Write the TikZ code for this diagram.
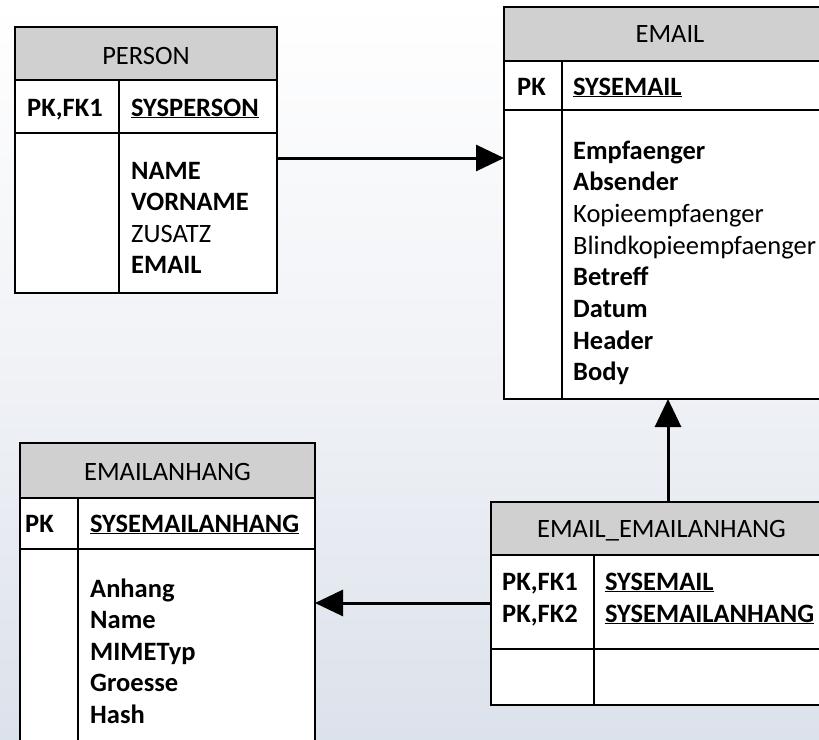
\documentclass[tikz,border=0pt]{standalone}
\usepackage{fontspec}
\setmainfont{Carlito}
\usetikzlibrary{arrows.meta}
\definecolor{hdr}{HTML}{D0D0D0}
\definecolor{bgtop}{HTML}{FFFFFF}
\definecolor{bgbot}{HTML}{DCE2EB}
\tikzset{
  tbl/.style={draw=black, line width=1.8pt, fill=white},
  hdrbox/.style={draw=black, line width=1.8pt, fill=hdr},
  sep/.style={draw=black, line width=1.8pt},
  txt/.style={anchor=base west, inner sep=0pt, font=\fontsize{26.5}{31.5}\selectfont},
  htxt/.style={anchor=base, inner sep=0pt, font=\fontsize{26.5}{31.5}\selectfont},
  conn/.style={draw=black, line width=3pt, -{Triangle[length=28pt,width=26pt]}},
}
\begin{document}
\begin{tikzpicture}[x=1pt,y=-1pt]
\useasboundingbox (0,0) rectangle (819,739);
\clip (0,0) rectangle (819,739);
\shade[top color=bgtop, bottom color=bgbot, middle color={rgb,255:red,240;green,242;blue,246}] (0,0) rectangle (819,739);

% PERSON
\draw[tbl] (15,80) rectangle (277,293);
\draw[hdrbox] (15,27) rectangle (277,80);
\draw[sep] (15,133) -- (277,133);
\draw[sep] (119,80) -- (119,293);
\node[htxt] (pT) at (146,64) {PERSON};
\node[txt] (pK) at (27,116) {\bfseries PK,FK1};
\node[txt] (pS) at (131,116) {\bfseries\underline{SYSPERSON}};
\node[txt] (pA1) at (131,179) {\bfseries NAME};
\node[txt] (pA2) at (131,210.5) {\bfseries VORNAME};
\node[txt] (pA3) at (131,242) {ZUSATZ};
\node[txt] (pA4) at (131,273.5) {\bfseries EMAIL};
\coordinate (pR) at (277,158);

% EMAIL
\draw[tbl] (504,61) rectangle (836,399);
\draw[hdrbox] (504,7) rectangle (836,61);
\draw[sep] (504,110) -- (836,110);
\draw[sep] (562,61) -- (562,399);
\node[htxt] (eT) at (670,42) {EMAIL};
\node[txt] (eK) at (517,95) {\bfseries PK};
\node[txt] (eS) at (573,95) {\bfseries\underline{SYSEMAIL}};
\node[txt] (e1) at (573,159) {\bfseries Empfaenger};
\node[txt] (e2) at (573,190.7) {\bfseries Absender};
\node[txt] (e3) at (573,222.4) {Kopieempfaenger};
\node[txt] (e4) at (573,254.1) {Blindkopieempfaenger};
\node[txt] (e5) at (573,285.8) {\bfseries Betreff};
\node[txt] (e6) at (573,317.5) {\bfseries Datum};
\node[txt] (e7) at (573,349.2) {\bfseries Header};
\node[txt] (e8) at (573,380.9) {\bfseries Body};
\coordinate (eL) at (504,158);
\coordinate (eB) at (668,399);

% EMAILANHANG
\draw[tbl] (20,498) rectangle (315,760);
\draw[hdrbox] (20,443) rectangle (315,498);
\draw[sep] (20,549) -- (315,549);
\draw[sep] (78,498) -- (78,760);
\node[htxt] (aT) at (167.5,480) {EMAILANHANG};
\node[txt] (aK) at (25,532) {\bfseries PK};
\node[txt] (aS) at (90,532) {\bfseries\underline{SYSEMAILANHANG}};
\node[txt] (a1) at (90,597) {\bfseries Anhang};
\node[txt] (a2) at (90,628.5) {\bfseries Name};
\node[txt] (a3) at (90,660) {\bfseries MIMETyp};
\node[txt] (a4) at (90,691.5) {\bfseries Groesse};
\node[txt] (a5) at (90,723) {\bfseries Hash};
\coordinate (aR) at (315,603);

% EMAIL_EMAILANHANG
\draw[tbl] (491,555) rectangle (832,705);
\draw[hdrbox] (491,502) rectangle (832,555);
\draw[sep] (491,649) -- (832,649);
\draw[sep] (594,555) -- (594,705);
\node[htxt] (xT) at (661.5,537) {EMAIL\_EMAILANHANG};
\node[txt] (xK1) at (502,590) {\bfseries PK,FK1};
\node[txt] (xK2) at (502,622) {\bfseries PK,FK2};
\node[txt] (xS1) at (605,590) {\bfseries\underline{SYSEMAIL}};
\node[txt] (xS2) at (605,622) {\bfseries\underline{SYSEMAILANHANG}};
\coordinate (xT0) at (668,502);
\coordinate (xL) at (491,603);

% connectors
\draw[conn] (pR) -- (eL);
\draw[conn] (xT0) -- (eB);
\draw[conn] (xL) -- (aR);
\end{tikzpicture}
\end{document}
